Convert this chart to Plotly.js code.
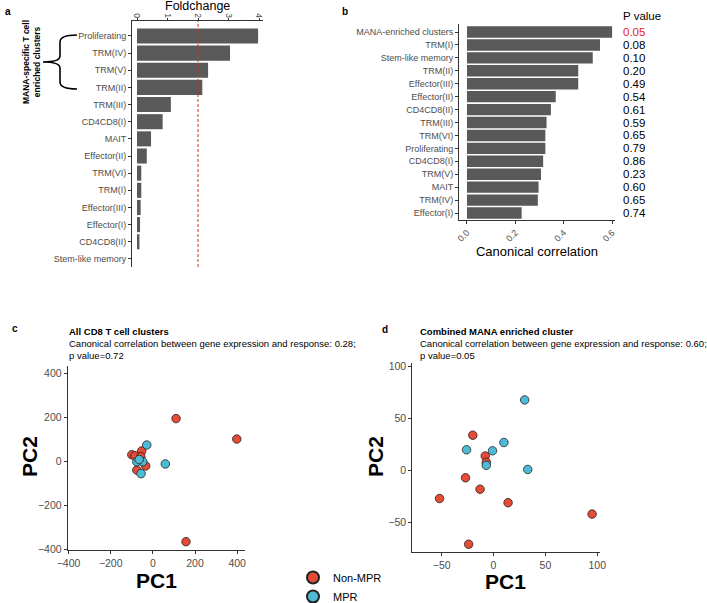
<!DOCTYPE html>
<html>
<head>
<meta charset="utf-8">
<script src="https://cdn.plot.ly/plotly-3.0.1.min.js"></script>
<style>html,body{margin:0;padding:0;background:#fff}#chart{width:707px;height:603px}</style>
</head>
<body>
<div id="chart"></div>
<script>
// ---- Panel a data ----
const aCategories = ["Proliferating","TRM(IV)","TRM(V)","TRM(II)","TRM(III)","CD4CD8(I)","MAIT","Effector(II)","TRM(VI)","TRM(I)","Effector(III)","Effector(I)","CD4CD8(II)","Stem-like memory"];
const aFoldchange = [3.97, 3.05, 2.33, 2.14, 1.11, 0.84, 0.46, 0.32, 0.14, 0.14, 0.12, 0.10, 0.08, 0.0];
const aThreshold = 2;

// ---- Panel b data ----
const bCategories = ["MANA-enriched clusters","TRM(I)","Stem-like memory","TRM(II)","Effector(III)","Effector(II)","CD4CD8(II)","TRM(III)","TRM(VI)","Proliferating","CD4CD8(I)","TRM(V)","MAIT","TRM(IV)","Effector(I)"];
const bCanonical = [0.60, 0.55, 0.52, 0.46, 0.46, 0.367, 0.347, 0.329, 0.324, 0.324, 0.315, 0.306, 0.296, 0.293, 0.226];
const bPvalues = ["0.05","0.08","0.10","0.20","0.49","0.54","0.61","0.59","0.65","0.79","0.86","0.23","0.60","0.65","0.74"];

// ---- Panel c data (All CD8 T cell clusters) ----
const cNonMPR_PC1 = [110, 398, 157, -100, -85, -53, -57, -76, -34];
const cNonMPR_PC2 = [194, 101, -365, 30, 25, 47, 21, -40, -21];
const cMPR_PC1 = [-29, 59, -76, -48, -56, -65];
const cMPR_PC2 = [74, -12, -2, -2, -56, 8];

// ---- Panel d data (Combined MANA enriched cluster) ----
const dNonMPR_PC1 = [-52, -24, -27, -20, -8, -7, -13, 14, 95];
const dNonMPR_PC2 = [-27, -71, -7, 34, 14, 8, -18, -31, -42];
const dMPR_PC1 = [-26, -7, -1, 10, 30, 33];
const dMPR_PC2 = [20, 5, 19, 27, 68, 1];

const W = 707, H = 603;
const px = x => x / W;
const py = y => 1 - y / H;
const FONT = "Liberation Sans, Arial, sans-serif";
const RED = "#E64B35", BLUE = "#4DBBD5", BAR = "#595959";
const TICKC = "#4d4d4d", LINEC = "#333333";

const mk = (color) => ({color: color, size: 8.5, line: {color: "#222", width: 0.8}});

const traces = [
  {type: "bar", orientation: "h", x: aFoldchange, y: aCategories, xaxis: "x", yaxis: "y",
   marker: {color: BAR}, showlegend: false, hoverinfo: "x+y"},
  {type: "bar", orientation: "h", x: bCanonical, y: bCategories, xaxis: "x2", yaxis: "y2",
   marker: {color: BAR}, showlegend: false, hoverinfo: "x+y"},
  {type: "scatter", mode: "markers", x: cNonMPR_PC1, y: cNonMPR_PC2, xaxis: "x3", yaxis: "y3",
   name: "Non-MPR", marker: mk(RED), legendgroup: "n"},
  {type: "scatter", mode: "markers", x: cMPR_PC1, y: cMPR_PC2, xaxis: "x3", yaxis: "y3",
   name: "MPR", marker: mk(BLUE), legendgroup: "m"},
  {type: "scatter", mode: "markers", x: dNonMPR_PC1, y: dNonMPR_PC2, xaxis: "x4", yaxis: "y4",
   name: "Non-MPR", marker: mk(RED), legendgroup: "n", showlegend: false},
  {type: "scatter", mode: "markers", x: dMPR_PC1, y: dMPR_PC2, xaxis: "x4", yaxis: "y4",
   name: "MPR", marker: mk(BLUE), legendgroup: "m", showlegend: false}
];

const baseAx = {showgrid: false, zeroline: false, showline: true, linecolor: LINEC, linewidth: 1,
  ticks: "outside", ticklen: 3, tickcolor: LINEC, tickfont: {size: 9, color: TICKC, family: FONT}};

const scAx = Object.assign({}, baseAx, {ticklen: 3, tickfont: {size: 10.5, color: TICKC, family: FONT}});

const layout = {
  width: W, height: H,
  margin: {l: 0, r: 0, t: 0, b: 0, pad: 0, autoexpand: false},
  paper_bgcolor: "#fff", plot_bgcolor: "#fff",
  font: {family: FONT, color: "#000"},
  bargap: 0.12,
  showlegend: true,
  legend: {x: px(293), y: py(563), xanchor: "left", yanchor: "top", bgcolor: "rgba(0,0,0,0)",
    font: {size: 11, family: FONT, color: "#000"}, tracegroupgap: 0, itemwidth: 30, itemsizing: "constant"},
  xaxis: Object.assign({}, baseAx, {domain: [px(132), px(263)], anchor: "y", side: "top",
    range: [-0.164, 4.13], tickvals: [0,1,2,3,4], tickangle: 90, ticklen: 2, ticklabelstandoff: -3,
    tickfont: {size: 8.5, color: TICKC, family: FONT}}),
  yaxis: Object.assign({}, baseAx, {domain: [py(267), py(21)], anchor: "x", type: "category",
    categoryorder: "array", categoryarray: aCategories, range: [13.47, -0.87]}),
  xaxis2: Object.assign({}, baseAx, {domain: [px(459), px(615)], anchor: "y2",
    range: [-0.033, 0.612], tickvals: [0, 0.2, 0.4, 0.6], tickformat: ".1f", tickangle: -45,
    title: {text: "Canonical correlation", font: {size: 13, color: "#000", family: FONT}, standoff: 4}}),
  yaxis2: Object.assign({}, baseAx, {domain: [py(220), py(24)], anchor: "x2", type: "category",
    categoryorder: "array", categoryarray: bCategories, range: [14.54, -0.62]}),
  xaxis3: Object.assign({}, scAx, {domain: [px(67.7), px(245)], anchor: "y3",
    range: [-404, 437], tickvals: [-400,-200,0,200,400]}),
  yaxis3: Object.assign({}, scAx, {domain: [py(550), py(366)], anchor: "x3",
    range: [-403, 433], tickvals: [-400,-200,0,200,400]}),
  xaxis4: Object.assign({}, scAx, {domain: [px(412.3), px(600)], anchor: "y4",
    range: [-78.3, 102.6], tickvals: [-50,0,50,100]}),
  yaxis4: Object.assign({}, scAx, {domain: [py(552.3), py(363.3)], anchor: "x4",
    range: [-78.8, 103.3], tickvals: [-50,0,50,100]}),
  shapes: [
    {type: "line", xref: "x", yref: "y domain", x0: aThreshold, x1: aThreshold, y0: 0, y1: 1,
     line: {color: "#d7301f", width: 1, dash: "3px,2px"}},
    {type: "path", xref: "paper", yref: "paper", line: {color: "#000", width: 1.6},
     path: "M" + px(77) + "," + py(35) + " Q" + px(60) + "," + py(35) + " " + px(60) + "," + py(42) +
           " L" + px(60) + "," + py(56) + " Q" + px(60) + "," + py(62) + " " + px(43) + "," + py(62) +
           " Q" + px(60) + "," + py(62) + " " + px(60) + "," + py(68) +
           " L" + px(60) + "," + py(82) + " Q" + px(60) + "," + py(89) + " " + px(77) + "," + py(89)}
  ],
  annotations: []
};

const ann = layout.annotations;
const A = (o) => ann.push(Object.assign({xref: "paper", yref: "paper", showarrow: false,
  font: {family: FONT, size: 10, color: "#000"}}, o));

// panel labels
A({text: "<b>a</b>", x: px(3), y: py(11), xanchor: "left", yanchor: "middle"});
A({text: "<b>b</b>", x: px(340), y: py(11), xanchor: "left", yanchor: "middle"});
A({text: "<b>c</b>", x: px(10), y: py(328), xanchor: "left", yanchor: "middle"});
A({text: "<b>d</b>", x: px(380), y: py(329), xanchor: "left", yanchor: "middle"});

// panel a axis title
A({text: "Foldchange", x: px(197), y: py(6), xanchor: "center", yanchor: "middle", font: {family: FONT, size: 12.5, color: "#000"}});

// brace label
A({text: "<b>MANA-specific T cell<br>enriched clusters</b>", textangle: -90, x: px(32), y: py(62),
   xanchor: "center", yanchor: "middle", font: {family: FONT, size: 8.5, color: "#000"}});

// P value column
A({text: "P value", x: px(621), y: py(16), xanchor: "left", yanchor: "middle", font: {family: FONT, size: 11.5, color: "#000"}});
bPvalues.forEach((p, i) => {
  ann.push({text: p, xref: "paper", yref: "y2", x: px(621), y: bCategories[i], xanchor: "left", yanchor: "middle",
    showarrow: false, font: {family: FONT, size: 11.5, color: (parseFloat(p) <= 0.05 ? "#e41a1c" : "#000")}});
});

// scatter axis titles
const PCF = {family: FONT, size: 21, color: "#000"};
A({text: "<b>PC1</b>", x: px(156.5), y: py(580), xanchor: "center", yanchor: "middle", font: PCF});
A({text: "<b>PC2</b>", x: px(29), y: py(457), xanchor: "center", yanchor: "middle", textangle: -90, font: PCF});
A({text: "<b>PC1</b>", x: px(505), y: py(581), xanchor: "center", yanchor: "middle", font: PCF});
A({text: "<b>PC2</b>", x: px(375), y: py(457), xanchor: "center", yanchor: "middle", textangle: -90, font: PCF});

// scatter titles
const titleBlock = (x0, bold, line2, line3) => {
  A({text: "<b>" + bold + "</b>", x: px(x0), y: py(331), xanchor: "left", yanchor: "middle", font: {family: FONT, size: 9.5, color: "#000"}});
  A({text: line2, x: px(x0), y: py(343), xanchor: "left", yanchor: "middle", font: {family: FONT, size: 9.5, color: "#000"}});
  A({text: line3, x: px(x0), y: py(355), xanchor: "left", yanchor: "middle", font: {family: FONT, size: 9.5, color: "#000"}});
};
titleBlock(66.5, "All CD8 T cell clusters", "Canonical correlation between gene expression and response: 0.28;", "p value=0.72");
titleBlock(417.5, "Combined MANA enriched cluster", "Canonical correlation between gene expression and response: 0.60;", "p value=0.05");

Plotly.newPlot("chart", traces, layout, {displayModeBar: false, staticPlot: true});
</script>
</body>
</html>
